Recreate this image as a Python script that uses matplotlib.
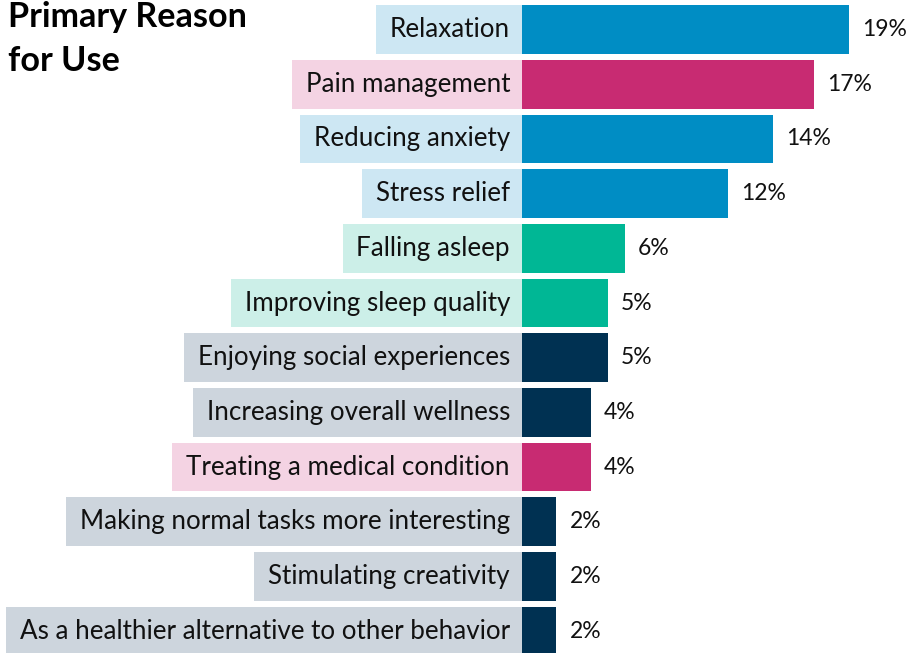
import matplotlib.pyplot as plt

reasons = ["Relaxation", "Pain management", "Reducing anxiety", "Stress relief",
           "Falling asleep", "Improving sleep quality", "Enjoying social experiences",
           "Increasing overall wellness", "Treating a medical condition",
           "Making normal tasks more interesting", "Stimulating creativity",
           "As a healthier alternative to other behavior"]
shares = [19, 17, 14.6, 12, 6, 5, 5, 4, 4, 2, 2, 2]
share_labels = ["19%", "17%", "14%", "12%", "6%", "5%", "5%", "4%", "4%", "2%", "2%", "2%"]
groups = ["calm", "medical", "calm", "calm", "sleep", "sleep", "social",
          "social", "medical", "social", "social", "social"]

palette = {
    "calm":    ("#008DC4", "#CDE7F3"),
    "medical": ("#C82B72", "#F4D3E3"),
    "sleep":   ("#00B795", "#CCEFE8"),
    "social":  ("#003152", "#CDD5DD"),
}

plt.rcParams['font.family'] = ['Lato', 'DejaVu Sans']

W, H = 908, 653
fig = plt.figure(figsize=(W / 100, H / 100), dpi=100)
ax = fig.add_axes([0, 0, 1, 1])

# pixel geometry: bars start at x=522, ~17.2 px per percent, rows 54.7 px apart
x0_px, px_per = 522, 17.2
ax.set_xlim(-x0_px / px_per, (W - x0_px) / px_per)
row0, pitch = 29.5, 54.7
ax.set_ylim((H - row0) / pitch, -row0 / pitch)
ax.axis("off")

rows = list(range(len(reasons)))
bar_colors = [palette[g][0] for g in groups]
ax.barh(rows, shares, height=0.89, color=bar_colors, zorder=2)

label_texts = []
for i, name in enumerate(reasons):
    t = ax.text(-12 / px_per, i, name, ha="right", va="center",
                fontsize=18.7, color="#111111", zorder=3)
    label_texts.append(t)
    ax.text(shares[i] + 13 / px_per, i, share_labels[i], ha="left", va="center",
            fontsize=16.5, color="#111111", zorder=3)

# light boxes behind the category labels, sized to the text
fig.canvas.draw()
renderer = fig.canvas.get_renderer()
inv = ax.transData.inverted()
for i, t in enumerate(label_texts):
    bb = t.get_window_extent(renderer)
    left = inv.transform((bb.x0 - 14, 0))[0]
    ax.barh(i, -left, left=left, height=0.89,
            color=palette[groups[i]][1], zorder=1)

fig.text(8 / W, 1 - 1 / H, "Primary Reason\nfor Use", ha="left", va="top",
         fontsize=24.6, fontweight="bold", color="#000000", linespacing=1.45)

fig.savefig("out.png", dpi=100)
